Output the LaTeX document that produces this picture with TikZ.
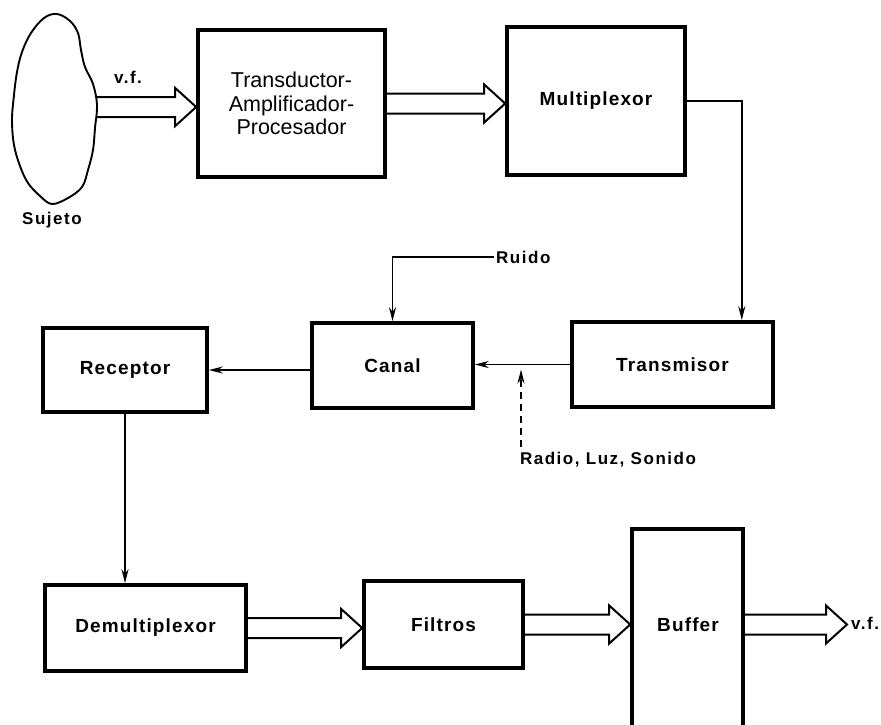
\documentclass[tikz,border=0pt]{standalone}
\usepackage{fontspec}
\setmainfont{Liberation Sans}
\newfontfamily\boxfont{Liberation Sans}[LetterSpace=6]
\newfontfamily\labfont{Liberation Sans}[LetterSpace=9]
\usetikzlibrary{arrows.meta,calc}

\tikzset{
  blk/.style={draw, line width=3.6pt, inner sep=0pt,
    font=\boxfont\bfseries\fontsize{19}{22}\selectfont},
  lab/.style={inner sep=2pt, font=\labfont\bfseries\fontsize{17}{20}\selectfont},
  wire/.style={line width=1.5pt, -{Stealth[length=14pt,width=7pt]}},
  hollow/.style={line width=2pt, line join=miter},
}
% broad open "signal" arrow running level from #1 to the x of #2
\newcommand\harrow[2]{%
  \draw[hollow] let \p1=(#1), \p2=(#2) in
    (\x1,\y1+10pt) -- (\x2-21pt,\y1+10pt) -- (\x2-21pt,\y1+19pt) -- (\x2,\y1)
    -- (\x2-21pt,\y1-19pt) -- (\x2-21pt,\y1-10pt) -- (\x1,\y1-10pt);}

\begin{document}
\begin{tikzpicture}[x=1pt,y=-1pt]
\useasboundingbox (0,0) rectangle (881,724);
\clip (0,0) rectangle (881,724);

% the subject, a freehand lumpy outline
\draw[line width=1.9pt, line join=round] plot[smooth cycle, tension=0.6] coordinates {
  (57,14) (70,21) (78,33) (81,50) (85,67) (93,84) (97,105) (95,128)
  (93,150) (88,170) (82,187) (68,198) (52,204) (40,196) (28,183)
  (20,166) (14,145) (12,120) (14,95) (17,72) (22,52) (31,33) (44,18)};
\coordinate (cloudR) at (96,107);
\node[lab] (sujeto) at (52,220) {Sujeto};
\node[lab] (vf1) at (128,77) {v.f.};

% blocks
\node[blk, minimum width=187pt, minimum height=147pt, align=center,
      font=\fontsize{21.5}{23.5}\selectfont] (tap) at (291.5,103.5)
      {Transductor-\\Amplificador-\\Procesador};
\node[blk, minimum width=178pt, minimum height=148pt] (mux) at (596,101) {Multiplexor};
\node[blk, minimum width=201pt, minimum height=85pt] (trans) at (672.5,364.5) {Transmisor};
\node[blk, minimum width=161pt, minimum height=85pt] (canal) at (392.5,365.5) {Canal};
\node[blk, minimum width=164pt, minimum height=84pt] (rec) at (125,370) {Receptor};
\node[blk, minimum width=201pt, minimum height=86pt] (demux) at (145.5,628) {Demultiplexor};
\node[blk, minimum width=159pt, minimum height=87pt] (filt) at (443.5,624.5) {Filtros};
\node[blk, minimum width=111pt, minimum height=240pt] (buf) at (687.5,649) {};
\node[lab, font=\boxfont\bfseries\fontsize{19}{22}\selectfont] (buftxt) at (688,625) {Buffer};

% thin signal lines
\draw[wire] (mux.east) -| ($(trans.north east)+(-33,0)$);
\draw[wire] (trans.west) -- (trans.west -| canal.east);
\draw[wire] (canal.west |- rec.east) -- (rec.east);
\draw[wire] (rec.south) -- (rec.south |- demux.north);

\node[lab, anchor=west] (ruido) at (494,257) {Ruido};
\draw[wire] (ruido.west) -| (canal.north);

\node[lab] (radio) at (608,460) {Radio, Luz, Sonido};
\coordinate (rlsFoot) at (521,447);
\draw[wire, dash pattern=on 7pt off 5pt] (rlsFoot) -- ($(rlsFoot |- trans.west)+(0,5)$);

% broad arrows
\harrow{cloudR}{tap.west}
\harrow{tap.east}{mux.west}
\harrow{demux.east}{filt.west}
\harrow{filt.east}{buf.west}
\coordinate (vfTip) at (847,623);
\harrow{buf.east |- filt.east}{vfTip}
\node[lab, anchor=west, inner sep=1pt] (vf2) at (850,623) {v.f.};
\end{tikzpicture}
\end{document}
